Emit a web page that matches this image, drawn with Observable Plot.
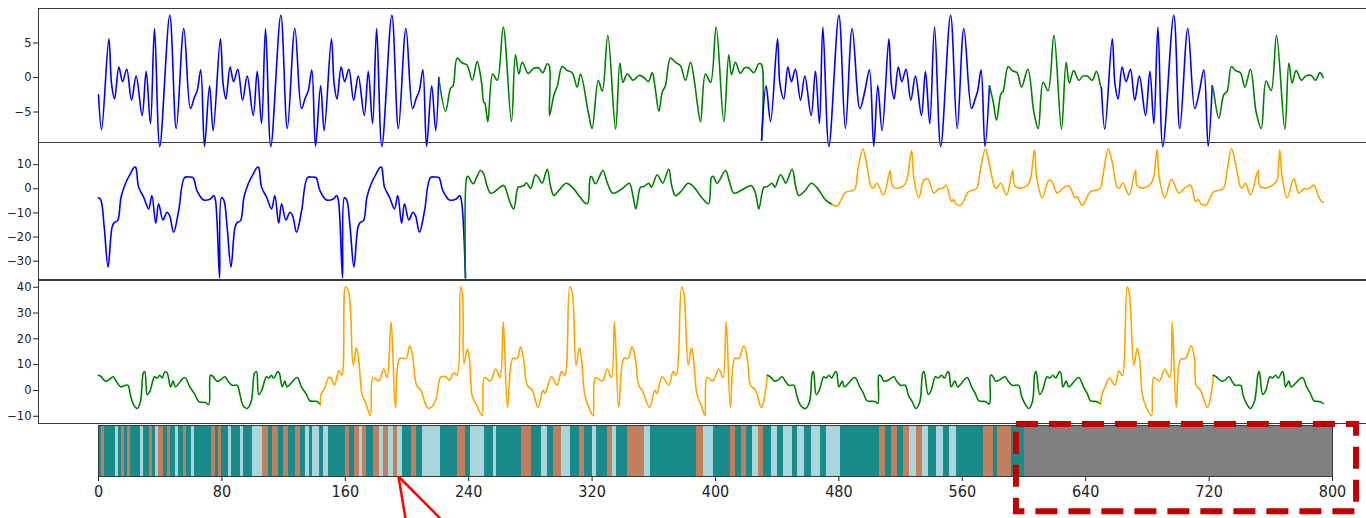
<!DOCTYPE html>
<html><head><meta charset="utf-8">
<script src="https://cdn.jsdelivr.net/npm/d3@7"></script>
<script src="https://cdn.jsdelivr.net/npm/@observablehq/plot@0.6"></script>
<style>
html,body{margin:0;padding:0;background:#fff;overflow:hidden;}
#wrap{position:relative;width:1366px;height:518px;overflow:hidden;background:#fff;}
#wrap > svg{position:absolute;left:0;overflow:visible;max-width:none !important;}
</style></head><body><div id="wrap"></div>
<script>
// ---------- DATA ----------
const classColors = {B: "#0000ff", G: "#008000", O: "#ffa500"};

const p1 = [
[0,-2.5],[2,-7.6],[6.7,5.6],[8.5,-1],[10.4,-3.1],[13.2,1.5],[15.6,-0.6],[18.3,1.2],[21.4,-3.3],[24.4,0.2],[28.3,-5.5],[30.9,0.9],[33.7,-6.7],[36.3,7.1],[39.7,-10],[46.2,9],[50.4,-7.4],[55.3,7.1],[59.6,-4.5],[62,-3],[64,-1.9],[66.3,1.1],[68.7,-10],
[72,-1.2],[74.3,-7.7],[79,5.6],[80.8,-1],[82.6,-3.1],[85.3,1.5],[87.6,-0.6],[90.3,1.2],[93.4,-3.3],[96.4,0.2],[100.3,-5.5],[102.9,0.9],[105.7,-6.7],[108.3,7.1],[111.7,-10],[118.2,9],[122.4,-7.4],[127.3,7.1],[131.6,-4.5],[134,-3],[136,-1.9],[138.3,1.1],[140.7,-10],
[144,-1.2],[146.3,-7.7],[151,5.6],[152.8,-1],[154.6,-3.1],[157.3,1.5],[159.6,-0.6],[162.3,1.2],[165.4,-3.3],[168.4,0.2],[172.3,-5.5],[174.9,0.9],[177.7,-6.7],[180.3,7.1],[183.7,-10],[190.2,9],[194.4,-7.4],[199.3,7.1],[203.6,-4.5],[206,-3],[208,-1.9],[210.3,1.1],[212.7,-10],
[216,-1.2],[218.6,-7.7],
[220.6,0],[225,-4.9],[228.2,-1.6],[229.9,-1.2],[232.5,2.8],[235.8,2.1],[238.9,1.8],[242.3,-0.4],[245.5,2.3],[248.3,-0.7],[249.8,-3.6],[250.5,-3.7],[252.4,-6.4],[255.6,0.5],[258.5,-0.4],[262.4,7.3],[267.7,-6.4],[270.3,3.3],[272.5,0.5],[274.7,2.2],[278.6,0.6],[282,1.3],[285.3,1.4],[288,0.7],[290.9,2.0],[292.3,1.7],
[292.4,-5.5],[295.2,-2.6],[297.5,-1.2],[300.6,1.6],[303.9,1.0],[307.1,0.7],[310.3,-1.4],[312.5,0.5],[317.5,-5.0],[320,-7.4],[324,-0.4],[326.6,-2.0],[330.2,6.1],[335.2,-7.5],[338,2.1],[340,-0.7],[342.8,0.5],[346.7,-0.4],[350.4,0.3],[353.6,0],[356.4,-0.6],[359,0.7],
[360.7,-1.2],[363.3,-4.9],[365.5,-2.1],[367.5,-1.2],[370.8,2.8],[374.1,2.2],[377.3,1.7],[380.5,-0.4],[383.8,2.2],[386.6,-1.0],[388.1,-3.6],[390.3,-6.4],[393.5,0.5],[396.8,-0.7],[400.4,7.3],[405.4,-6.4],[408.6,3.3],[410.4,0.4],[412.9,2.2],[416.1,0.6],[418.9,1.4],[421.5,1.4],[424.8,0.7],[428.1,2.0],[429.8,1.9],
[429.9,-9.1],[432.8,-1.2],[435.7,-6.4],[440.2,5.6],[441.8,-1],[444.3,-3.1],[446.9,1.5],[449.2,-0.6],[451.8,1.2],[455.1,-3.3],[457.9,0.2],[462,-5.5],[464.8,0.9],[467.4,-6.7],[469.6,7.3],[473.5,-10],[480,9],[484.2,-7.4],[488.6,7.1],[493.6,-4.5],[496.8,-2],[499.8,1.1],[502.6,-10],
[505.2,-1.2],[508,-7.7],[512.4,5.6],[514,-1],[515.8,-3.1],[518.5,1.5],[520.8,-0.6],[523.5,1.2],[526.6,-3.3],[529.6,0.2],[533.5,-5.5],[536.1,0.9],[538.9,-6.7],[542,7.3],[546,-10],[552.4,9],[556.7,-7.4],[561,7.1],[566,-4.5],[568.5,-3],[570,-1.9],[572.2,1.1],[574.7,-10],
[577.6,-1.2],[580,-3.5],[582.2,-6.2],[585,-2.4],[586.5,-2],[589.7,1.6],[592.3,1.0],[595.5,0.7],[598.4,-1.4],[602.5,1.2],[606.4,-5.0],[609.2,-7.4],[612.4,-0.7],[615.6,-1.9],[619.4,6.1],[624.3,-7.5],[627.3,2.2],[629.4,-0.8],[632.2,1.0],[635.6,-0.4],[638.1,0.2],[641,0.2],[644.2,-0.4],[647,0.9],[649.6,-1.2],
[650.2,-1.5],[652.4,-7.5],[657.2,5.6],[659,-1],[661,-3.1],[663.6,1.5],[666.2,-0.6],[669,1.2],[671.8,-3.3],[674.8,0.2],[678.8,-5.5],[681.6,0.9],[684.2,-6.7],[686.8,7.3],[690,-10],[697.1,9],[701,-7.4],[706.2,7.1],[710.7,-4.5],[713.7,-2],[716.6,1.1],[719.4,-10],
[722,-1.2],[722.4,-1.4],[726.3,-5.9],[729.5,-2.5],[731.7,-2],[734.5,1.6],[737.1,1.0],[740.3,0.7],[743.2,-1.4],[746.8,1.2],[750.5,-5],[753.8,-7.4],[756.9,-0.5],[760.2,-1.9],[763.7,6.1],[769.1,-7.5],[771.7,2.1],[773.8,-0.8],[776.4,1.0],[779.9,-0.4],[782.5,0.2],[786.2,0.3],[789,-0.4],[791.8,0.7],[794,0]
];
const p1Breaks = [0, 220.6, 429.9, 577.6, 650, 722];
const p1Classes = ["B", "G", "B", "G", "B", "G"];
const p1Domain = [-9.42, 10];
const p1Ticks = [-5, 0, 5];

const p2 = [
[0,-3.7],[1.5,-4.6],[3.7,-15.9],[6.2,-32.5],[8.8,-15.9],[10.3,-13.9],[12.4,-13.2],[14.6,-3.5],[17.4,2.1],[20.6,6.2],[23.4,9.0],[24.2,8.8],[26,0.7],[29.3,-3.5],[32.5,-8.3],[34.6,-2.8],[37.1,-14.3],[39,-6.2],[41.8,-12.9],[44.4,-9.7],[46.1,-11.1],[48.7,-18],[52,-9],[55.7,4.6],[58.5,4.9],[61.3,4.6],[63.8,-0.7],[68.1,-4.6],[72.5,-4.2],[74.7,-2.8],[75.8,-4.6],[78.5,-37],
[79.7,-3.7],[81.2,-4.6],[83.4,-15.9],[85.9,-32.5],[88.5,-15.9],[90,-13.9],[92.1,-13.2],[94.3,-3.5],[97.1,2.1],[100.3,6.2],[103.1,9.0],[103.9,8.8],[105.7,0.7],[109,-3.5],[112.2,-8.3],[114.3,-2.8],[116.8,-14.3],[118.7,-6.2],[121.5,-12.9],[124.1,-9.7],[125.8,-11.1],[128.4,-18],[131.7,-9],[135.4,4.6],[138.2,4.9],[141,4.6],[143.5,-0.7],[147.8,-4.6],[152.2,-4.2],[154.4,-2.8],[155.5,-4.6],[158.2,-37],
[159.4,-3.7],[160.9,-4.6],[163.1,-15.9],[165.6,-32.5],[168.2,-15.9],[169.7,-13.9],[171.8,-13.2],[174,-3.5],[176.8,2.1],[180,6.2],[182.8,9.0],[183.6,8.8],[185.4,0.7],[188.7,-3.5],[191.9,-8.3],[194,-2.8],[196.5,-14.3],[198.4,-6.2],[201.2,-12.9],[203.8,-9.7],[205.5,-11.1],[208.1,-18],[211.4,-9],[215.1,4.6],[217.9,4.9],[220.7,4.6],[223.2,-0.7],[227.5,-4.6],[231.9,-4.2],[234.1,-2.8],[235.2,-4.6],
[237.9,-37],[238.8,4.8],[239.5,5.2],[242.9,2.1],[245,4.5],[247.6,7.6],[249.5,6.5],[252,1],[254.1,-1.8],[256,-1.5],[259,0],[262.8,1.4],[264.5,-1],[267,-6],[269.2,-8.3],[272,0.7],[273.5,0.9],[275.7,1.3],[277.5,2.5],[280.1,0.1],[283.3,5.8],[285.5,4.4],[287.6,2.3],[290.9,8.1],[293,1.3],[295.2,-2.8],[298.4,-0.7],[303.2,2.3],[307.1,0.7],[311.4,-2.8],[315.6,-6.0],[317.2,-6.0],
[318.8,4.8],[319.6,5.1],[322.2,2.1],[327,7.6],[329.6,3],[333.4,-1.8],[339.4,0],[344.1,2.3],[346.5,-3],[348.4,-8.3],[351.4,0.7],[353.5,0.9],[356.7,2.3],[358.5,0.7],[362.1,5.8],[364,4.2],[365.8,2.3],[369.7,8.1],[371.5,1.6],[374.1,-2.8],[378,-0.8],[382.3,2.3],[386,0.7],[390.9,-3.5],[395.5,-6.2],
[397.4,4.8],[398.6,5.1],[401,2.3],[406.5,7.6],[409,3],[411.9,-1.8],[417.1,-0.5],[423.3,1.3],[426,-2],[428.1,-8.3],[431.4,0.7],[433.5,0.9],[436.7,2.3],[438.5,0.7],[442.1,5.8],[444,4.2],[445.5,2.3],[449.7,8.1],[451.8,1.6],[454,-2.8],[458,-0.8],[462.2,2.3],[466,0.3],[471.3,-4.6],
[475.6,-6.5],[478.7,-7.2],[481.5,-4.5],[484.3,-1.5],[488.6,-0.8],[490.5,0],[492.3,7.6],[495.5,16.6],[497.7,11.3],[501.1,0.7],[502.5,0.3],[504.6,2.4],[508.9,-2.5],[513.2,7.6],[514.5,1.5],[516.5,0.3],[522.1,1.3],[524,3.5],[527.1,15.9],[528.5,5],[531.8,-3.7],[535.1,3.5],[537.8,4.1],[541.5,-1.8],[544.7,0],[547.5,0.3],[549.5,1.5],[553,-5.2],[554.5,-4.5],[555.5,-6],[558.8,-6.9],[564.1,-1.2],[567.4,-0.5],[569.5,0.3],
[571.6,7.6],[575,16.6],[577.2,11.3],[581.1,0.7],[582.5,0.3],[584.8,2.4],[588.7,-2.5],[592.7,7.8],[593.8,1.5],[597.1,0.3],[602,1.3],[604,3.5],[606.8,16.2],[608.2,5],[611.8,-3.7],[616.1,3.5],[618,3.2],[621.5,-1.8],[624.7,0],[629.1,1.3],[633,-3.7],[634.5,-3.3],[637.7,-6.9],[643.1,-1.2],[647.4,-0.5],[649.5,0.3],
[651.7,7.6],[654.6,16.6],[657.1,11.3],[660.4,0.7],[661.8,0.3],[664.1,2.4],[668,-2.5],[672.3,7.8],[673.2,1.5],[676.6,0.3],[680.9,1.3],[683.5,3.5],[686.3,16.2],[687.6,5],[691.3,-3.7],[695.6,3.9],[700.4,-1.8],[703.6,0],[708,1.5],[711.2,-5.2],[713,-4.5],[714.5,-6],[717.7,-6.9],[723,-1.2],[727.3,-0.5],[729.5,0.3],
[731.7,7.6],[734.5,16.6],[736.9,11.3],[740.4,0.7],[741.5,0.3],[743.6,2.4],[746.8,-2.5],[751.8,7.8],[752.6,1.5],[756.6,0.3],[762,1.9],[764,3.5],[765.8,16.2],[767.3,5],[770.6,-3.7],[774.9,4.1],[778.2,-1.8],[781.4,0],[784.5,0],[787.9,1.5],[791.1,-3.3],[793.3,-5.5],[794,-5.5]
];
const p2Breaks = [0, 237.9, 475.6];
const p2Classes = ["B", "G", "O"];
const p2Domain = [-37.6, 19.2];
const p2Ticks = [-30, -20, -10, 0, 10];

const p3 = [
[0,5.9],[1.5,5.5],[4.5,3.6],[6.5,4.0],[9.5,5.3],[11.5,3.6],[14.3,1.4],[17.5,2.0],[19.2,2.0],[20.7,-1.8],[22.9,-5.7],[25.1,-7.0],[27.2,-4.3],[29,6.6],[30,7.3],[31.6,-1.6],[33.5,0],[36.3,5.3],[38,4.8],[39.7,5.9],[41.3,4.8],[43,7.2],[44.5,6.8],[46.7,1.4],[48.4,3.6],[49.8,1.4],[55.8,5.0],[59.2,1.4],[62.2,-1.2],[65,-4.3],[69.4,-4.7],[71.5,-5.5],
[72.6,5.9],[74.1,5.5],[76.9,3.6],[79,4.0],[81.9,5.3],[84,3.6],[86.7,2.0],[89.9,2.0],[91.8,-1.8],[93.6,-5.7],[96.4,-7.0],[99,-4.3],[101.1,6.6],[102.4,7.3],[103.9,-1.6],[105.8,0],[108.9,5.3],[110.5,4.8],[112,5.9],[113.6,4.8],[116.2,7.3],[117.2,6.8],[119.1,1.4],[120.8,3.6],[122.2,1.4],[128.8,5.0],[131.5,1.4],[134.5,-1.2],[137,-4.0],[141.8,-4.3],
[143.9,-5.5],[144.4,-1.2],[146.5,0.8],[149.3,5.0],[151,4.6],[153,2.0],[155.8,7.6],[157.8,5.9],[160.1,40.2],[162.3,37.6],[165.1,9.8],[167.2,16.5],[168.5,13],[170.9,-1.8],[172.5,-3.8],[174.2,-6.6],[176.3,-9.8],[178,5.0],[181.7,3.7],[185,8.3],[187.1,5.0],[189.7,26.6],[192.5,-6.6],[195.3,12.4],[199.4,12.4],[201.8,17.3],[203.7,13],[206.2,2.1],[209,0],[213.1,-6.6],[215,-6.8],[218.5,-4.0],[221.3,4.7],[222.3,5.3],[225,5.3],[227.5,4],[230.4,6.9],[232.5,6],
[234.7,40.2],[236,37],[236.9,10.5],[239.1,16],[240.5,12],[242.3,-2.2],[245,-5.5],[248.7,-9.8],[250.2,5.0],[254.1,3.7],[257.4,8.3],[260.3,5],[262.4,26.6],[265.2,-6.6],[268.6,12.4],[271.4,12.4],[273.6,16.9],[275.5,12.5],[277.9,2.1],[281.2,0],[285,-6.6],[288.1,0.1],[289.4,-1.2],[293.7,5.3],[297.3,2.1],[300.2,7.3],[302.3,5.9],
[305.5,40.2],[307.2,37.6],[309.6,9.8],[311.8,16.5],[313,13],[315.3,-1.8],[318,-6.6],[320.7,-9.8],[322.2,5.0],[326.6,3.7],[329.8,8.3],[332.5,5],[334.5,26.6],[337.3,-6.6],[340.6,12.4],[343.4,12.4],[345.9,16.9],[348,12.5],[350.2,2.1],[352.5,0],[357.2,-6.6],[360.7,0.1],[362,-1.2],[365.4,5.3],[369.7,2.1],[372.5,7.3],[374.5,5.9],
[378,40.2],[379.5,37.6],[382.3,9.8],[384.4,16.5],[385.6,13],[388.1,-1.8],[391,-6],[393.1,-9.8],[394.6,5.0],[398.3,3.7],[402.1,8.3],[404.8,5],[406.9,26.6],[409.7,-6.6],[412.5,12.4],[415.1,12.4],[418.4,17.3],[420.6,12.5],[422.7,2.1],[425.9,0],[429.8,-6.6],[432.4,-0.3],
[433.6,5.9],[435.1,5.5],[438.4,3.6],[440.5,4.0],[443.2,5.3],[445.3,3.6],[447.5,2.0],[450.8,2.0],[452.6,-1.8],[455.1,-5.7],[458.4,-7.0],[461,-4.3],[462.7,6.6],[463.5,7.3],[465.3,-1.6],[467.2,0],[470.2,5.3],[471.8,4.8],[473.5,5.9],[475.2,4.8],[477.8,7.3],[478.6,6.8],[480,1.4],[482.2,3.6],[483.6,1.4],[490.3,5.0],[493.5,1.4],[496,-1.2],[498.3,-4.0],[503.3,-4.3],[505.3,-5.0],
[505.9,5.9],[507.4,5.5],[509.1,3.6],[512,4.0],[515.6,5.3],[517.5,3.6],[519.9,2.0],[523,2.0],[525,-1.8],[527.5,-4.3],[530,-7.0],[532.5,-4.3],[534.3,6.6],[535.2,7.3],[537.9,-1.6],[539.8,0],[542.6,5.3],[544.5,4.8],[546.6,5.9],[548.4,4.8],[550.6,7.3],[551.4,6.8],[552.8,1.4],[555.2,3.6],[557,1.4],[563.1,5.0],[566,1.4],[568.5,-1.2],[570.7,-4.0],[575,-4.3],[577.6,-5.2],
[578.3,5.9],[579.8,5.5],[581.6,3.6],[584,4.0],[587.6,5.3],[589.8,3.6],[592.3,2.0],[596.6,2.0],[598.2,-1.8],[599.9,-4.3],[603.1,-7.0],[605.5,-4.3],[607,6.6],[607.8,7.3],[610.2,-1.6],[612,0],[615,5.3],[616.8,4.8],[618.7,5.9],[620.5,4.8],[623,7.3],[623.9,6.8],[625.2,1.4],[627.4,3.6],[629,1.4],[635.5,5.0],[638.5,1.4],[641,-1.2],[643.1,-4.0],[647,-4.3],
[649.6,-5.2],[650.7,-1.2],[653,2],[655.4,4.8],[658.9,2.0],[661.5,7.6],[663.7,5.7],[666.9,40.2],[668.3,37.6],[671.2,9.8],[673.4,16.3],[674.8,13],[676.8,-1.8],[679.4,-6.6],[682.6,-9.8],[684.2,5.0],[687.8,3.7],[691.3,8.3],[694.5,5],[696.1,26.6],[698.7,-6.6],[701.5,12],[704.7,12.4],[708.4,17.3],[710.5,12.5],[711.6,2.1],[714.5,0],[718.8,-6.6],[721.6,-0.3],
[722.7,5.9],[724.2,5.5],[728.1,3.6],[730.2,4.0],[732.8,5.3],[734.8,3.6],[736.7,2.0],[740.5,2.0],[742,-1.8],[743.6,-4.3],[746.8,-7.0],[749.4,-4.3],[751.8,6.6],[752.5,7.3],[754.8,-1.6],[756.8,0],[759.4,5.3],[761.2,4.8],[763.1,5.9],[764.9,4.8],[767.4,7.3],[768.2,6.8],[769.5,1.4],[771.7,3.6],[773.2,1.4],[780.4,5.0],[783.2,1.4],[785.7,-1.2],[788,-4.0],[791.3,-4.3],[794,-5.0]
];
const p3Breaks = [0, 143.9, 433.6, 649.6, 722.7];
const p3Classes = ["G", "O", "G", "O", "G"];
const p3Domain = [-12.8, 42.6];
const p3Ticks = [-10, 0, 10, 20, 30, 40];

// class strip, run-length coded: letter (t teal, b brown, l light) + length in x units
const stripRuns = "t2b2t7l2t2b2t2b2t6l2t4b2t2l2b3t3b2t3l2t3b2t3l2t11b3t2b2t4l2t6l2t6l6b4t3b4t3b3t5b3t3l3t2l4t3l3t11b3t3b3l2b3t4b4l3b3l3b3l3t6b3t4l12t11b5t3l9t6l2t16b7t6l4t4b5l6t6b3t5l3t7b3l3t7b11l4t30b4l7t11b3t4b3t4l4b3t5l4t4l6t3l5t4l6t4l9t25b4t4b4t4b4l4b4l4t5l5t4l4t18b6t3b9t8";
const stripEmpty = [600, 800];
const stripTicks = [0, 80, 160, 240, 320, 400, 480, 560, 640, 720, 800];
const stripColors = {t: "#198b8b", b: "#c17f5d", l: "#a8d6da", g: "#808080"};

// annotations (data units of the strip plot)
const boxX = [595.1, 815.6];
const boxY = [1.02, -0.69];
const arrowFrom = [194.5, 0];
const arrowTo = [[199, -0.82], [221.5, -0.82]];

// ---------- RENDER ----------
const wrap = document.getElementById("wrap");
const font = "DejaVu Sans, sans-serif";

function classOf(x, breaks, classes) {
  let c = classes[0];
  for (let i = 0; i < breaks.length; i++) if (x >= breaks[i]) c = classes[i];
  return c;
}

function place(svg, top) {
  svg.style.top = top + "px";
  svg.style.maxWidth = "none";
  wrap.appendChild(svg);
}

function panel(pts, breaks, classes, domain, ticks, top, height) {
  const rows = pts.map(([x, y]) => ({x, y, c: classOf(x, breaks, classes)}));
  const svg = Plot.plot({
    width: 1420, height,
    marginLeft: 38, marginRight: 0, marginTop: 0, marginBottom: 0,
    style: {background: "transparent", fontFamily: font, fontSize: "11.5px", color: "#222", overflow: "visible"},
    x: {domain: [0, 800], range: [98, 1332], axis: null},
    y: {domain, ticks, tickSize: 5, tickPadding: 2, label: null},
    color: {domain: Object.keys(classColors), range: Object.values(classColors)},
    marks: [
      Plot.frame({stroke: "#3a3a3a"}),
      Plot.line(rows, {x: "x", y: "y", z: null, stroke: "c", strokeWidth: 1.6, curve: "catmull-rom"})
    ]
  });
  place(svg, top);
}

panel(p1, p1Breaks, p1Classes, p1Domain, p1Ticks, 8, 134);
panel(p2, p2Breaks, p2Classes, p2Domain, p2Ticks, 142, 137);
panel(p3, p3Breaks, p3Classes, p3Domain, p3Ticks, 280, 143);

const cells = [];
{
  const re = /([a-z])(\d+)/g;
  let m, pos = 0;
  while ((m = re.exec(stripRuns))) {
    const len = +m[2];
    cells.push({x1: pos, x2: Math.min(pos + len, stripEmpty[0]), c: m[1]});
    pos += len;
  }
  if (pos < stripEmpty[0]) cells.push({x1: pos, x2: stripEmpty[0], c: "t"});
  cells.push({x1: stripEmpty[0], x2: stripEmpty[1], c: "g"});
}
const strip = Plot.plot({
  width: 1366, height: 100,
  marginLeft: 98, marginRight: 34, marginTop: 7, marginBottom: 42,
  style: {background: "transparent", fontFamily: "DejaVu Sans Condensed, Liberation Sans, sans-serif", fontSize: "16px", color: "#222", overflow: "visible"},
  x: {domain: [0, 800], ticks: stripTicks, tickSize: 5, tickPadding: 4, label: null},
  y: {domain: [0, 1], axis: null},
  color: {domain: Object.keys(stripColors), range: Object.values(stripColors)},
  marks: [
    Plot.rect(cells.filter(d => d.x2 > d.x1), {x1: "x1", x2: "x2", y1: 0, y2: 1, fill: "c", shapeRendering: "crispEdges"}),
    Plot.frame({stroke: "#3a3a3a"}),
    Plot.rect([0], {x1: boxX[0], x2: boxX[1], y1: boxY[0], y2: boxY[1], fill: "none", stroke: "#c00000", strokeWidth: 6, strokeDasharray: "22,11"}),
    Plot.link(arrowTo, {x1: arrowFrom[0], y1: arrowFrom[1], x2: d => d[0], y2: d => d[1], stroke: "#ff0000", strokeWidth: 2.5})
  ]
});
place(strip, 418);
</script></body></html>
